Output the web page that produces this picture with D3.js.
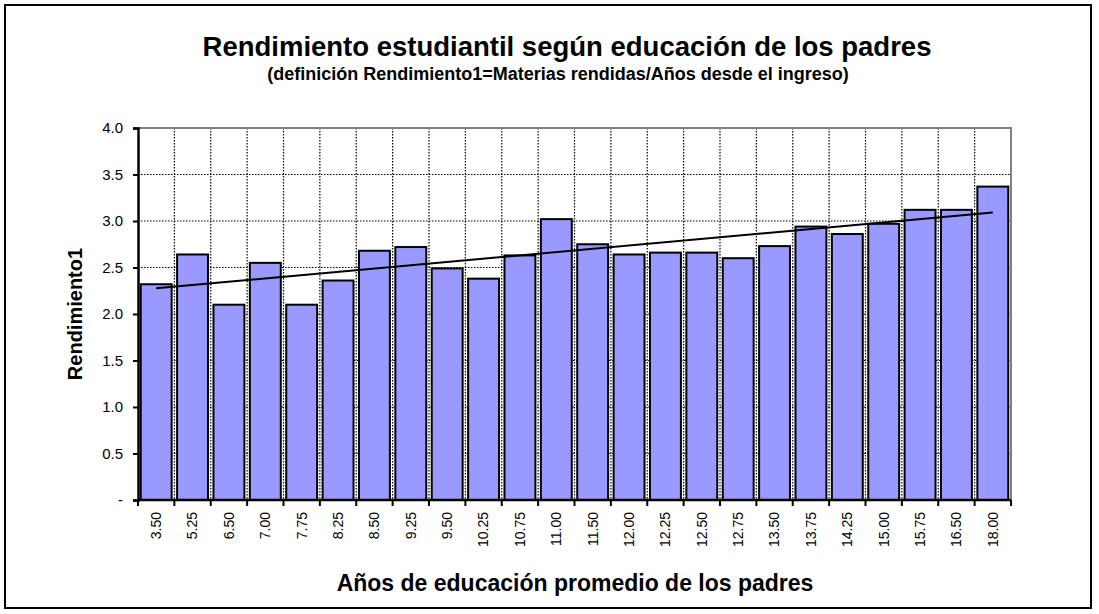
<!DOCTYPE html>
<html>
<head>
<meta charset="utf-8">
<script src="https://cdn.jsdelivr.net/npm/d3@7"></script>
<style>
	body { margin: 0; background: #fff; }
	svg { display: block; font-family: "Liberation Sans", Arial, sans-serif; }
</style>
</head>
<body>
<svg id="chart" width="1099" height="614"></svg>
<script>
// años de educación promedio de los padres (categorias)
const educ_years = ["3.50", "5.25", "6.50", "7.00", "7.75", "8.25", "8.50", "9.25", "9.50", "10.25", "10.75", "11.00",
	"11.50", "12.00", "12.25", "12.50", "12.75", "13.50", "13.75", "14.25", "15.00", "15.75", "16.50", "18.00"]
// Rendimiento1 por categoria
const rendimiento = [2.32, 2.64, 2.10, 2.55, 2.10, 2.36, 2.68, 2.72, 2.49, 2.38, 2.63, 3.02,
	2.75, 2.64, 2.66, 2.66, 2.60, 2.73, 2.94, 2.86, 2.97, 3.12, 3.12, 3.37]
const y_ticks = [0, 0.5, 1, 1.5, 2, 2.5, 3, 3.5, 4]

var svg = d3.select("#chart")
var plot_left = 138, plot_right = 1011, plot_top = 128, plot_bottom = 500

// chart area border
svg.append("rect")
	.attr("x", 5).attr("y", 5)
	.attr("width", 1086).attr("height", 603)
	.attr("fill", "none").attr("stroke", "#000").attr("stroke-width", 2)

svg.append("text")
	.attr("x", 567).attr("y", 56)
	.attr("text-anchor", "middle")
	.attr("font-size", "27.5px").attr("font-weight", "bold")
	.text("Rendimiento estudiantil según educación de los padres")

svg.append("text")
	.attr("x", 558).attr("y", 80)
	.attr("text-anchor", "middle")
	.attr("font-size", "18px").attr("font-weight", "bold")
	.text("(definición Rendimiento1=Materias rendidas/Años desde el ingreso)")

var xScale = d3.scaleBand().domain(educ_years).range([plot_left, plot_right]).paddingInner(0.15).paddingOuter(0.075),
	yScale = d3.scaleLinear().domain([0, 4]).range([plot_bottom, plot_top])
var step = xScale.step()
var n = educ_years.length

// grid
var g = svg.append("g")
g.selectAll(".hgrid")
	.data(y_ticks.slice(1, -1))
	.enter().append("line")
	.attr("x1", plot_left).attr("x2", plot_right)
	.attr("y1", d => yScale(d)).attr("y2", d => yScale(d))
	.attr("stroke", "#000").attr("stroke-width", 1.2).attr("stroke-dasharray", "1.5,1.5")
g.selectAll(".vgrid")
	.data(d3.range(1, n))
	.enter().append("line")
	.attr("x1", i => plot_left + i * step).attr("x2", i => plot_left + i * step)
	.attr("y1", plot_top).attr("y2", plot_bottom)
	.attr("stroke", "#000").attr("stroke-width", 1.2).attr("stroke-dasharray", "1.5,1.5")

// plot border top / right
svg.append("path")
	.attr("d", "M" + plot_left + "," + plot_top + "H" + plot_right + "V" + plot_bottom)
	.attr("fill", "none").attr("stroke", "#808080").attr("stroke-width", 2)

// bars
svg.selectAll(".bar")
	.data(educ_years)
	.enter().append("rect")
	.attr("class", "bar")
	.attr("x", d => xScale(d))
	.attr("width", xScale.bandwidth())
	.attr("y", (d, i) => yScale(rendimiento[i]))
	.attr("height", (d, i) => plot_bottom - yScale(rendimiento[i]))
	.attr("fill", "#9999FF").attr("stroke", "#000").attr("stroke-width", 2)

// linear trend (least squares over category index)
var mx = d3.mean(rendimiento, (d, i) => i), my = d3.mean(rendimiento)
var slope = d3.sum(rendimiento, (d, i) => (i - mx) * (d - my)) / d3.sum(rendimiento, (d, i) => (i - mx) * (i - mx))
var icept = my - slope * mx
svg.append("line")
	.attr("x1", xScale(educ_years[0]) + xScale.bandwidth() / 2)
	.attr("y1", yScale(icept))
	.attr("x2", xScale(educ_years[n - 1]) + xScale.bandwidth() / 2)
	.attr("y2", yScale(icept + slope * (n - 1)))
	.attr("stroke", "#000").attr("stroke-width", 2)

// y axis
var yAxis = svg.append("g")
	.attr("transform", "translate(" + plot_left + ",0)")
	.call(d3.axisLeft(yScale).tickValues(y_ticks).tickSize(5).tickPadding(10)
		.tickFormat(d => d === 0 ? "-" : d.toFixed(1)))
yAxis.select(".domain").attr("stroke-width", 2.5)
yAxis.selectAll(".tick line").attr("stroke-width", 2)
yAxis.selectAll("text").attr("font-size", "15px").attr("fill", "#000").attr("font-family", null)

// x axis
var xAxis = svg.append("g")
	.attr("transform", "translate(0," + plot_bottom + ")")
	.call(d3.axisBottom(xScale).tickSize(0).tickSizeOuter(0))
xAxis.select(".domain").attr("stroke-width", 2.5).attr("d", "M" + plot_left + ",0H" + plot_right)
xAxis.selectAll(".tick text")
	.attr("font-size", "14px").attr("fill", "#000").attr("font-family", null)
	.attr("transform", "rotate(-90)")
	.attr("text-anchor", "end")
	.attr("x", -12).attr("y", 0).attr("dy", "0.35em")
// tick marks at category boundaries
xAxis.selectAll(".bnd")
	.data(d3.range(n + 1))
	.enter().append("line")
	.attr("x1", i => plot_left + i * step).attr("x2", i => plot_left + i * step)
	.attr("y1", 0).attr("y2", 6)
	.attr("stroke", "#000").attr("stroke-width", 2)

svg.append("text")
	.attr("x", 575).attr("y", 591)
	.attr("text-anchor", "middle")
	.attr("font-size", "23px").attr("font-weight", "bold")
	.text("Años de educación promedio de los padres")

svg.append("text")
	.attr("transform", "translate(82," + ((plot_top + plot_bottom) / 2) + ") rotate(-90)")
	.attr("text-anchor", "middle")
	.attr("font-size", "20px").attr("font-weight", "bold")
	.text("Rendimiento1")
</script>
</body>
</html>
